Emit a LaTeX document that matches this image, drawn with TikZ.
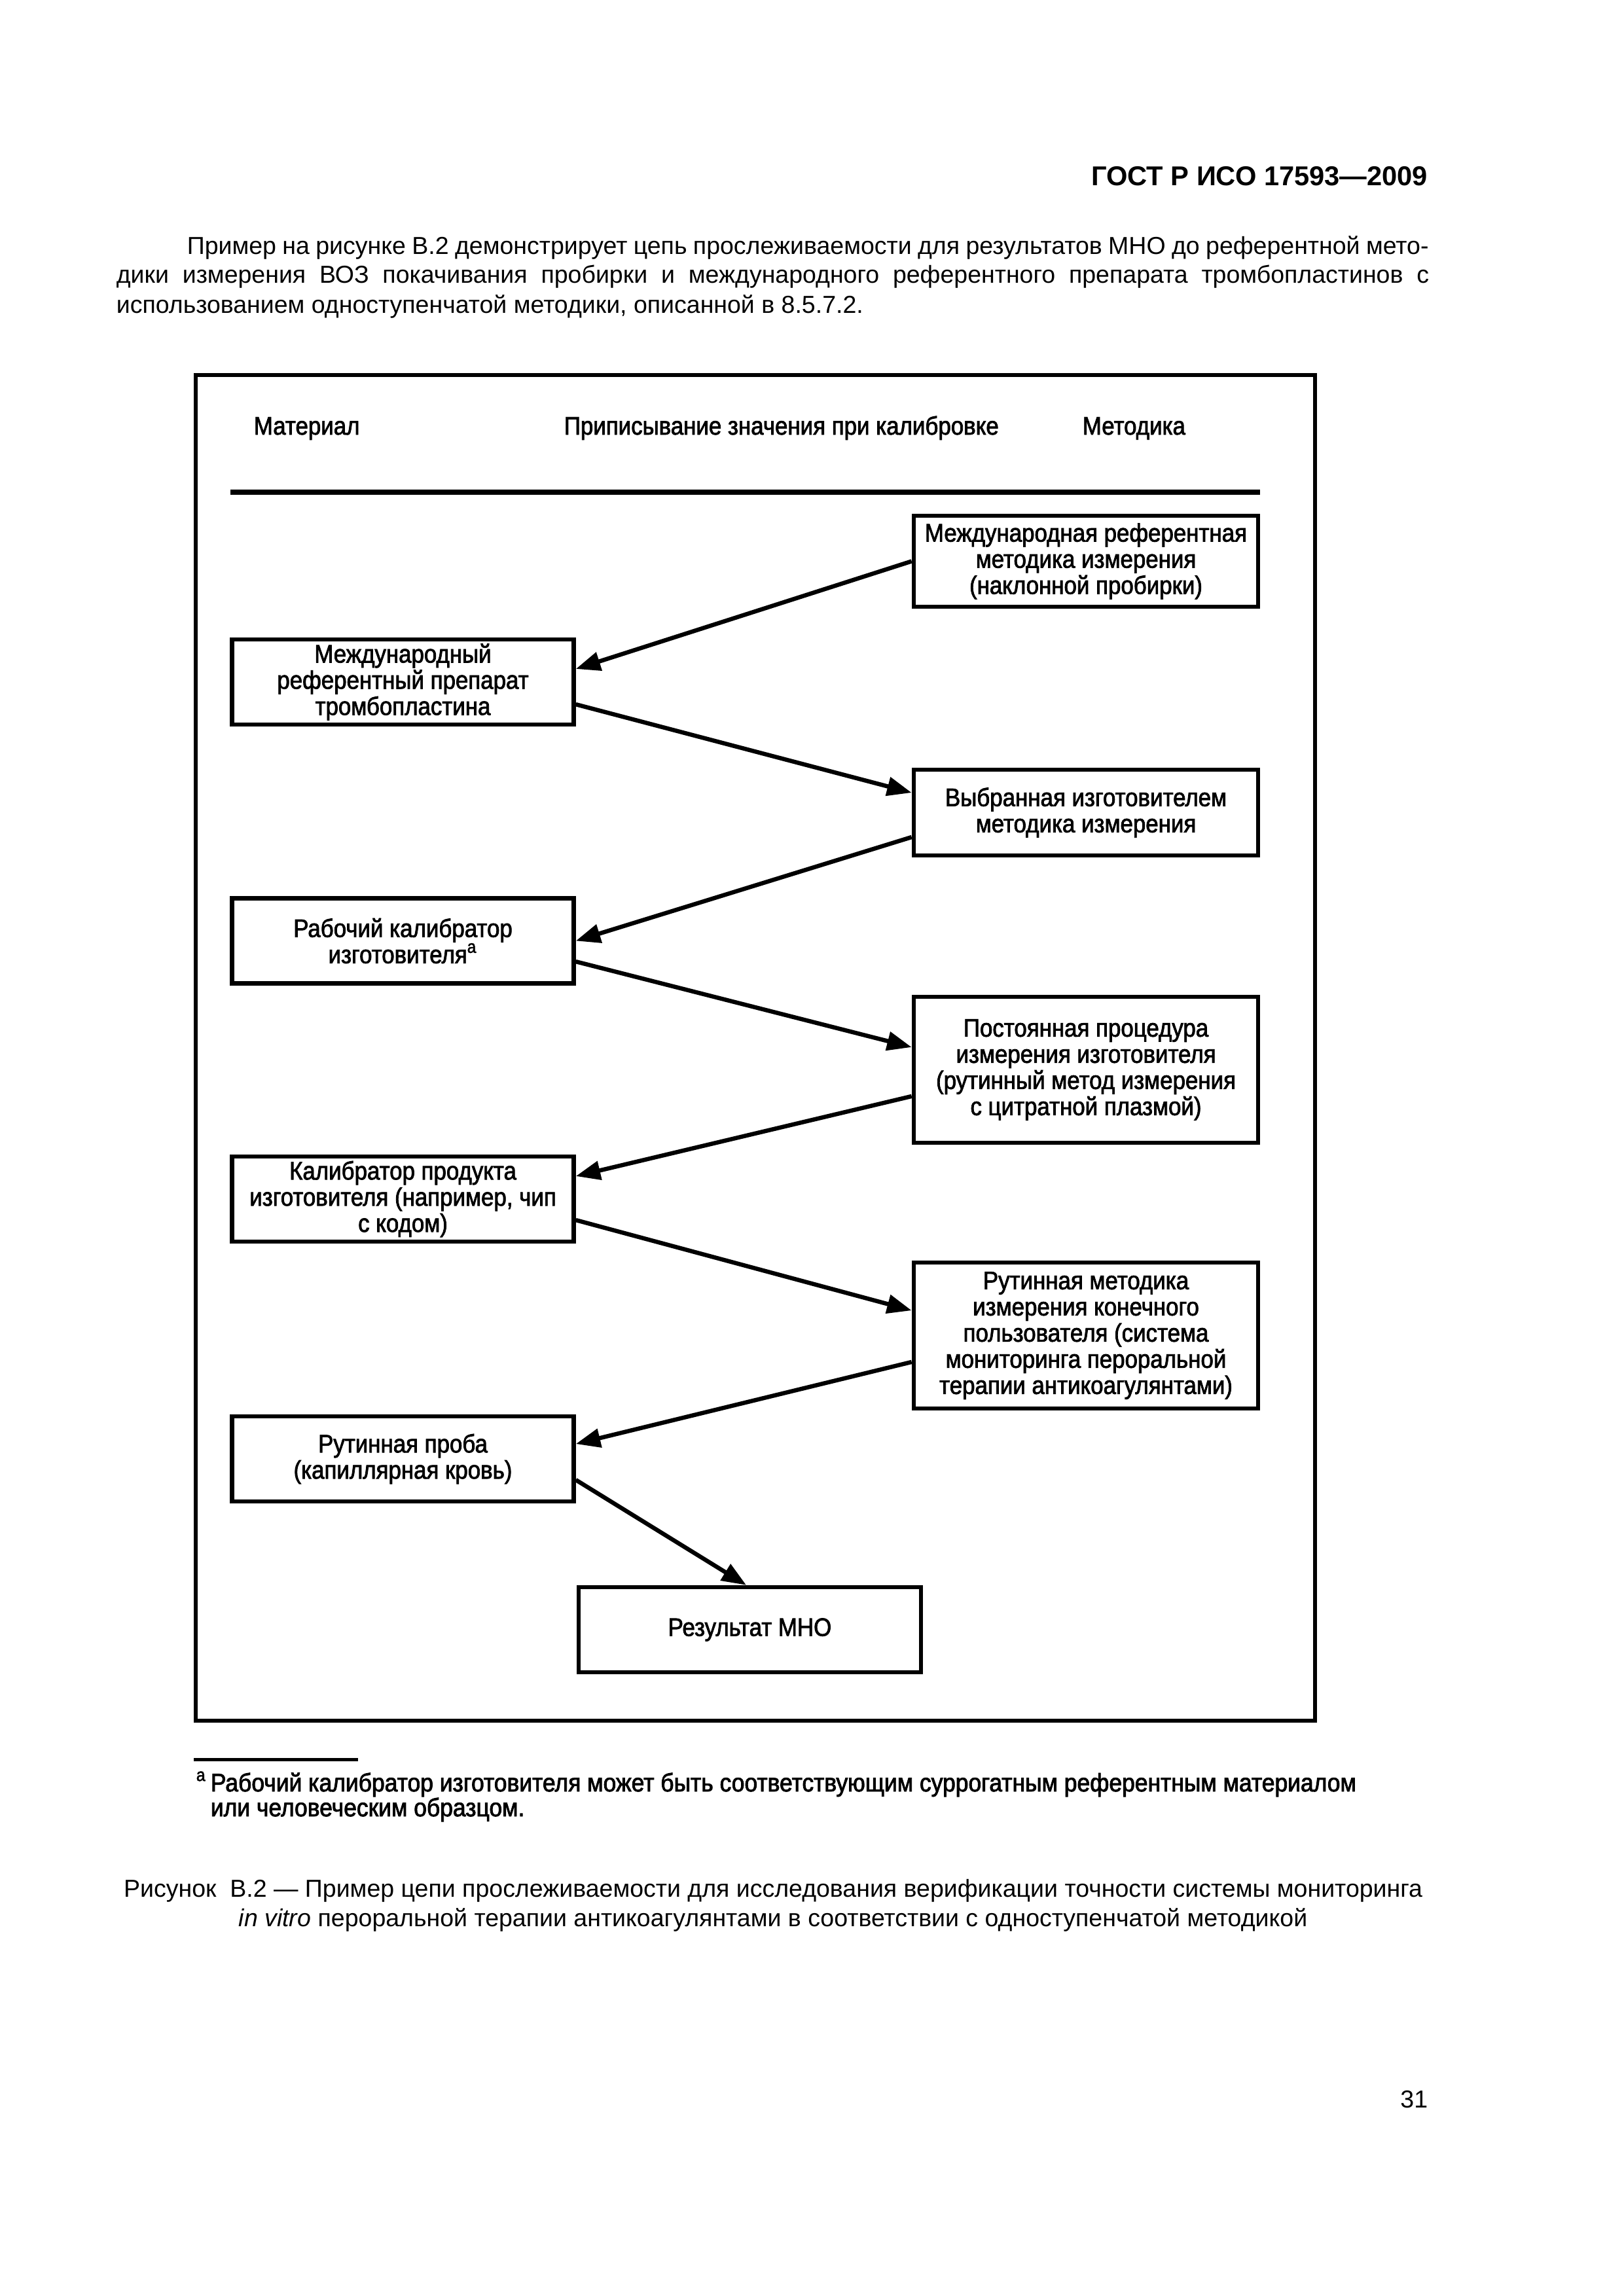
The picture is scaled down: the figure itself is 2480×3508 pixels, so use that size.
\documentclass[tikz,border=0pt]{standalone}
\usepackage{fontspec}
\setmainfont{Liberation Sans}
\newfontfamily\figfont{Liberation Sans}[FakeStretch=0.9,FakeBold=2]
\newfontfamily\notefont{Liberation Sans}[FakeStretch=0.915,FakeBold=2.2]
\usetikzlibrary{arrows.meta}
\newcommand\figsize{\fontsize{9.3pt}{9.6pt}\selectfont}
\newcommand\bodysize{\fontsize{9.0pt}{11pt}\selectfont}
\begin{document}
\begin{tikzpicture}[x=0.24003pt,y=-0.24003pt,
  box/.style={draw,line width=1.55pt,rectangle,inner sep=0pt,align=center,font=\figfont\figsize},
  lbox/.style={box,minimum width=125.3pt,minimum height=31.2pt},
  rbox/.style={box,minimum width=126.3pt},
  arr/.style={-{Triangle[length=9pt,width=6.8pt]},line width=1.55pt},
  colhead/.style={anchor=base west,inner sep=0pt,font=\figfont\figsize},
  txt/.style={anchor=base west,inner sep=0pt,font=\bodysize},
  ctxt/.style={anchor=base,inner sep=0pt,font=\bodysize},
]
\useasboundingbox[fill=white] (0,0) rectangle (2480,3508);

% page header and paragraph
\node[anchor=base east,inner sep=0pt,font=\bfseries\fontsize{10pt}{12pt}\selectfont] (gost) at (2182,283) {ГОСТ Р ИСО 17593—2009};
\node[txt] (p1) at (285,388) {\hbox to 455.3pt{Пример на рисунке В.2 демонстрирует цепь прослеживаемости для результатов МНО до референтной мето-}};
\node[txt] (p2) at (177,432) {\hbox to 481.3pt{дики измерения ВОЗ покачивания пробирки и международного референтного препарата тромбопластинов с}};
\node[txt] (p3) at (177,478) {использованием одноступенчатой методики, описанной в 8.5.7.2.};

% frame
\draw[line width=1.55pt] (299,573) rectangle (2009,2629);

% column headers
\node[colhead] (h1) at (387,664) {Материал};
\node[colhead] (h2) at (861,664) {Приписывание значения при калибровке};
\node[colhead] (h3) at (1653,664) {Методика};
\coordinate (r1) at (352,752);
\coordinate (r2) at (1925,752);
\draw[line width=1.8pt] (r1) -- (r2);

% boxes
\node[rbox,minimum height=33.4pt] (b1) at (1659,857.5) {Международная референтная\\методика измерения\\(наклонной пробирки)};
\node[lbox] (b2) at (615.5,1042) {Международный\\референтный препарат\\тромбопластина};
\node[rbox,minimum height=31.4pt] (b3) at (1659,1241.5) {Выбранная изготовителем\\методика измерения};
\node[lbox] (b4) at (615.5,1437.5) {Рабочий калибратор\\изготовителя\textsuperscript{a}};
\node[rbox,minimum height=53.5pt] (b5) at (1659,1634.5) {Постоянная процедура\\измерения изготовителя\\(рутинный метод измерения\\с цитратной плазмой)};
\node[lbox] (b6) at (615.5,1832) {Калибратор продукта\\изготовителя (например, чип\\с кодом)};
\node[rbox,minimum height=53.5pt] (b7) at (1659,2040.5) {Рутинная методика\\измерения конечного\\пользователя (система\\мониторинга пероральной\\терапии антикоагулянтами)};
\node[lbox] (b8) at (615.5,2229) {Рутинная проба\\(капиллярная кровь)};
\node[lbox,minimum width=125.5pt] (b9) at (1145.5,2490) {Результат МНО};

% connectors
\draw[arr] (b1.west) -- ([yshift=4.8pt]b2.east);
\draw[arr] ([yshift=-8.2pt]b2.east) -- ([yshift=7.3pt]b3.west);
\draw[arr] ([yshift=-9pt]b3.west) -- (b4.east);
\draw[arr] ([yshift=-7.6pt]b4.east) -- ([yshift=8.3pt]b5.west);
\draw[arr] ([yshift=-9.7pt]b5.west) -- ([yshift=8.4pt]b6.east);
\draw[arr] ([yshift=-7.7pt]b6.east) -- ([yshift=9.2pt]b7.west);
\draw[arr] ([yshift=-9.7pt]b7.west) -- ([yshift=5.5pt]b8.east);
\draw[arr] ([yshift=-7.7pt]b8.east) -- ([xshift=-1.3pt]b9.north);

% footnote
\coordinate (f1) at (296,2688);
\coordinate (f2) at (547,2688);
\draw[line width=1.2pt] (f1) -- (f2);
\node[anchor=base west,inner sep=0pt,font=\notefont\figsize] (fna) at (299,2737) {\textsuperscript{a}};
\node[anchor=base west,inner sep=0pt,font=\notefont\figsize] (fn1) at (321,2737) {Рабочий калибратор изготовителя может быть соответствующим суррогатным референтным материалом};
\node[anchor=base west,inner sep=0pt,font=\notefont\figsize] (fn2) at (321,2775) {или человеческим образцом.};

% caption
\node[ctxt] (cap1) at (1181,2898) {Рисунок~~В.2 — Пример цепи прослеживаемости для исследования верификации точности системы мониторинга};
\node[ctxt] (cap2) at (1181,2943) {\textit{in vitro} пероральной терапии антикоагулянтами в соответствии с одноступенчатой методикой};

% page number
\node[anchor=base east,inner sep=0pt,font=\bodysize] (pg) at (2182,3220) {31};
\end{tikzpicture}
\end{document}
